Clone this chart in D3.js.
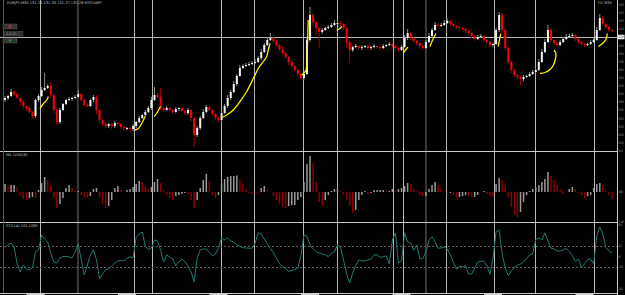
<!DOCTYPE html>
<html lang="en">
<head>
<meta charset="UTF-8" />
<title>EURJPY,M30</title>
<script src="https://d3js.org/d3.v7.min.js"></script>
<style>
  body { margin: 0; background: #000; }
  svg { display: block; }
  text { font-family: "DejaVu Sans", sans-serif; }
</style>
</head>
<body>
<svg width="625" height="295"></svg>
<script>
// ---- data ----
const firstOpen = 130.0;
const closes = [
  130.04,130.08,130.16,130.12,130.04,129.96,129.88,129.84,129.76,129.68,
  130.00,130.08,130.20,130.24,130.28,130.10,129.80,129.56,129.80,129.92,
  130.00,130.02,130.04,130.06,130.12,130.00,129.90,129.88,130.00,130.06,
  129.80,129.60,129.52,129.48,129.52,129.48,129.54,129.52,129.46,129.44,
  129.44,129.42,129.48,129.56,129.64,129.70,129.76,129.84,130.00,130.10,
  130.06,129.84,129.80,129.84,129.80,129.76,129.82,129.84,129.78,129.74,
  129.80,129.64,129.30,129.44,129.64,129.76,129.86,129.80,129.72,129.64,
  129.60,129.74,129.88,130.04,130.16,130.32,130.48,130.64,130.68,130.70,
  130.72,130.74,130.76,130.84,130.96,131.10,131.20,131.24,131.18,131.10,
  131.02,130.94,130.86,130.76,130.68,130.60,130.52,130.44,130.52,131.20,
  131.70,131.56,131.44,131.36,131.40,131.44,131.46,131.50,131.54,131.54,
  131.52,131.44,131.16,131.00,131.06,131.08,131.04,131.06,131.08,131.04,
  131.06,131.08,131.06,131.04,131.08,131.10,131.12,131.08,131.04,131.00,
  131.06,131.24,131.34,131.24,131.18,131.14,131.08,131.04,131.16,131.28,
  131.40,131.50,131.48,131.50,131.54,131.58,131.52,131.48,131.46,131.44,
  131.42,131.38,131.34,131.28,131.22,131.26,131.28,131.20,131.16,131.10,
  131.12,131.40,131.70,131.40,131.04,130.76,130.60,130.50,130.46,130.42,
  130.46,130.48,130.52,130.56,130.60,130.76,130.96,131.16,131.40,131.20,
  131.14,131.10,131.16,131.22,131.26,131.28,131.30,131.22,131.16,131.12,
  131.10,131.12,131.16,131.20,131.40,131.64,131.52,131.46,131.40,131.38
];
const wickUp = [
  .04,.02,.06,.04,.02,.02,.04,.02,.04,.02, .02,.04,.06,.30,.04,.08,.04,.02,.04,.02,
  .02,.04,.02,.04,.08,.02,.02,.04,.02,.04, .04,.02,.02,.04,.02,.02,.04,.02,.02,.02,
  .02,.02,.04,.02,.04,.02,.04,.04,.06,.16, .04,.18,.02,.04,.02,.02,.04,.02,.02,.02,
  .04,.02,.02,.04,.04,.06,.04,.02,.02,.02, .02,.04,.04,.06,.04,.06,.04,.06,.04,.04,
  .04,.04,.06,.04,.06,.04,.06,.10,.02,.02, .02,.04,.02,.02,.04,.02,.02,.02,.04,.06,
  .16,.04,.02,.02,.04,.02,.04,.04,.06,.04, .04,.02,.02,.04,.02,.04,.02,.04,.02,.04,
  .02,.04,.02,.02,.04,.02,.04,.02,.02,.02, .04,.06,.08,.02,.02,.02,.02,.04,.04,.06,
  .04,.06,.04,.04,.06,.04,.02,.02,.02,.02, .02,.02,.02,.02,.02,.04,.04,.02,.02,.02,
  .02,.04,.06,.04,.02,.02,.02,.02,.02,.02, .04,.02,.04,.04,.04,.06,.06,.06,.10,.04,
  .02,.02,.04,.04,.06,.04,.04,.02,.02,.02, .02,.02,.04,.06,.06,.08,.04,.02,.02,.02
];
const wickDn = [
  .04,.04,.02,.04,.04,.06,.04,.06,.04,.06, .04,.04,.02,.02,.02,.06,.06,.06,.04,.02,
  .02,.02,.04,.02,.02,.04,.04,.02,.02,.04, .08,.06,.04,.04,.04,.06,.04,.04,.04,.06,
  .04,.06,.04,.04,.02,.02,.04,.02,.04,.02, .02,.04,.04,.02,.04,.04,.02,.04,.02,.04,
  .04,.06,.24,.04,.04,.02,.02,.02,.04,.04, .04,.04,.02,.04,.04,.02,.04,.02,.02,.02,
  .02,.02,.02,.02,.04,.02,.02,.02,.04,.04, .04,.04,.04,.06,.04,.04,.06,.04,.04,.02,
  .04,.08,.14,.32,.04,.02,.02,.02,.02,.02, .04,.04,.12,.26,.04,.02,.04,.04,.02,.04,
  .04,.02,.04,.04,.02,.02,.02,.04,.04,.04, .02,.02,.04,.04,.04,.04,.06,.04,.02,.02,
  .02,.02,.02,.02,.02,.02,.04,.04,.04,.04, .02,.04,.04,.04,.04,.02,.02,.04,.04,.04,
  .04,.02,.04,.06,.06,.04,.06,.04,.04,.12, .04,.02,.02,.02,.02,.02,.02,.02,.02,.04,
  .04,.04,.02,.02,.02,.02,.02,.04,.04,.04, .04,.02,.02,.02,.02,.02,.04,.04,.04,.02
];
const histValues = [
  .08,.06,.07,.07,.05,-.04,-.07,-.08,-.06,-.05, -.06,.02,.09,.15,.12,.07,-.06,-.16,-.12,-.06,
  .04,.07,.04,.01,.01,-.03,-.05,-.06,-.04,.03, .04,-.06,-.12,-.16,-.14,-.08,.04,.06,.02,0,
  .02,.03,.05,.08,.11,.10,.06,.03,.05,.10, .13,.09,.02,-.03,-.06,-.08,-.04,-.03,-.02,-.01,
  -.02,-.08,-.16,-.08,.04,.12,.18,.11,-.03,-.06, -.03,.09,.13,.15,.16,.16,.165,.13,.08,.03,
  -.01,-.02,0,-.01,.04,.06,.02,0,-.04,-.08, -.12,-.15,-.16,-.14,-.13,-.13,-.08,-.05,.10,.28,
  .36,.29,.10,-.10,-.14,-.08,-.03,.01,.03,.03, .01,-.03,-.08,-.14,-.21,-.18,-.08,-.03,.01,-.02,
  -.01,.02,.02,.02,.02,.01,.01,.03,.02,.03, .04,.06,.09,.08,.03,.01,-.03,-.04,-.04,.03,
  .07,.10,.07,.03,.01,-.01,-.01,-.03,-.06,-.05, -.04,-.03,-.04,-.05,-.05,-.03,0,.01,-.02,-.04,
  -.05,.08,.14,.12,.06,-.05,-.15,-.22,-.25,-.20, -.10,-.03,.01,.03,.05,.07,.10,.13,.20,.16,
  .12,.07,.03,-.02,0,.03,.05,.03,-.01,-.03, -.06,-.04,-.03,.04,.08,.09,.07,.01,-.03,-.07
];
const cciValues = [
  88,109,128,91,-68,-143,-78,-115,-124,-106, 44,63,203,165,137,35,-50,-59,-12,0,
  2,-3,-12,44,119,-31,-171,-78,16,63, -31,-208,-162,-124,-110,-87,-59,-40,-36,-40,
  -15,0,-12,180,212,231,100,63,81,156, 147,63,-50,16,-3,-22,-87,-50,-22,-47,
  -87,-143,-237,-12,63,72,72,39,7,25, 81,175,156,175,147,137,109,95,84,81,
  79,79,125,222,212,165,119,77,35,-12, -68,-92,-110,-138,-129,-120,-110,7,203,189,
  109,72,44,35,25,16,0,32,44,109, 91,-31,-162,-246,-152,-82,-31,-40,-40,-31,
  -22,16,16,-7,0,7,-68,156,222,-59, -40,222,137,128,58,109,-22,-17,44,156,
  187,140,79,81,91,72,16,-50,-120,-87, -96,-82,-162,-162,-106,-47,-45,-40,-87,-166,
  -12,231,250,25,-106,-176,-134,-101,-78,-68, -50,-17,16,25,161,175,156,222,147,79,
  72,53,53,63,77,49,11,-45,-22,-101, -68,-26,-22,-68,194,278,208,86,53,35
];
// yellow indicator segments: [candle index, price]
const yellowSegments = [
  [[11.5,129.83],[12.6,129.93],[13.7,130.00],[14.2,130.07]],
  [[42.6,129.40],[43.7,129.43],[44.8,129.53],[45.9,129.67]],
  [[48.9,129.67],[49.7,129.73],[50.6,129.83],[51.0,129.87]],
  [[71.05,129.65],[72.7,129.70],[74.85,129.80],[77.05,129.97],[79.25,130.17],[81.4,130.43],
   [83.05,130.63],[84.7,130.77],[85.8,130.87],[86.3,131.00],[86.9,131.13]],
  [[97.3,130.50],[98.7,130.60],[99.1,131.00],[99.4,131.60]],
  [[108.75,131.40],[109.6,131.42],[110.4,131.47]],
  [[130.5,130.94],[131.3,131.00],[132.1,131.06]],
  [[139.3,131.07],[140.2,131.20],[141.3,131.33]],
  [[161.7,131.07],[162.1,131.20],[162.5,131.33]],
  [[175.4,130.53],[177.05,130.55],[178.7,130.61],[179.8,130.70],[180.4,130.81],[180.6,130.93],[180.0,131.00]],
  [[194.5,131.07],[195.9,131.13],[197.0,131.21],[197.5,131.33]]
];
const lightMarks = [11.5, 42.3, 48.2, 70.7, 81.6, 97.6, 108.75, 127.1, 130.4, 144.5, 160.4, 173.9, 193.2];
const darkMarks = [23.9, 138.0];
const lastPrice = 131.26;
const priceTicks = [131.900,131.738,131.576,131.414,131.252,131.090,130.928,130.766,130.604,
  130.442,130.280,130.118,129.956,129.794,129.632,129.470,129.308,129.146];
const histTicks = [0.41, 0, -0.30];
const cciTicks = [300, 100, 0, -100, -300];
const cciLevels = [100, -100];
const timeLabels = [[10, "11 Mar 2021"], [40, "11 Mar 16:00"], [70, "12 Mar 00:00"], [100, "12 Mar 08:00"],
  [130, "12 Mar 16:00"], [160, "15 Mar 00:00"], [190, "15 Mar 08:00"]];

// ---- layout ----
const svg = d3.select("svg");
const W = 625, axisX = 617;
const x = d3.scaleLinear().domain([0, closes.length - 1]).range([5, 612]);
const yP = d3.scaleLinear().domain([132.0, 128.98]).range([0, 151]);
const yH = d3.scaleLinear().domain([0.41, -0.30]).range([151, 222]);
const yC = d3.scaleLinear().domain([324, -349]).range([222, 294]);

svg.append("rect").attr("width", W).attr("height", 295).attr("fill", "#000");

// vertical object lines across all panels
svg.append("g").selectAll("line").data(lightMarks).join("line")
  .attr("x1", d => Math.round(x(d)) + 0.5).attr("x2", d => Math.round(x(d)) + 0.5)
  .attr("y1", 0).attr("y2", 293).attr("stroke", "#b4b4b4").attr("stroke-width", 1);
svg.append("g").selectAll("line").data(darkMarks).join("line")
  .attr("x1", d => x(d)).attr("x2", d => x(d))
  .attr("y1", 0).attr("y2", 293).attr("stroke", "#3a3a3a").attr("stroke-width", 2);

// panel separators and axes
[151.5, 222.5, 293.5].forEach(yy => {
  svg.append("line").attr("x1", 0).attr("x2", axisX).attr("y1", yy).attr("y2", yy)
    .attr("stroke", "#c8c8c8");
});
svg.append("line").attr("x1", axisX + 0.5).attr("x2", axisX + 0.5).attr("y1", 0).attr("y2", 295)
  .attr("stroke", "#c8c8c8");
svg.append("line").attr("x1", 3.5).attr("x2", 3.5).attr("y1", 0).attr("y2", 293)
  .attr("stroke", "#555");

// last price line
svg.append("line").attr("x1", 0).attr("x2", axisX).attr("y1", Math.round(yP(lastPrice)) + 0.5)
  .attr("y2", Math.round(yP(lastPrice)) + 0.5).attr("stroke", "#b4b4b4");

// ---- candles ----
const candles = closes.map((c, i) => {
  const o = i === 0 ? firstOpen : closes[i - 1];
  return { i, o, c, h: Math.max(o, c) + wickUp[i], l: Math.min(o, c) - wickDn[i] };
});
const main = svg.append("g");
main.selectAll("line.wick").data(candles).join("line").attr("class", "wick")
  .attr("x1", d => x(d.i)).attr("x2", d => x(d.i))
  .attr("y1", d => yP(d.h)).attr("y2", d => yP(d.l))
  .attr("stroke", d => d.c >= d.o ? "#8a948a" : "#a00000").attr("stroke-width", 1);
main.selectAll("rect").data(candles).join("rect")
  .attr("x", d => x(d.i) - 1)
  .attr("width", 2)
  .attr("y", d => yP(Math.max(d.o, d.c)))
  .attr("height", d => Math.max(1, Math.abs(yP(d.o) - yP(d.c))))
  .attr("fill", d => d.c >= d.o ? "#f2f2f2" : "#ff0000");

main.selectAll("path.yel").data(yellowSegments).join("path").attr("class", "yel")
  .attr("d", d3.line().x(d => x(d[0])).y(d => yP(d[1])).curve(d3.curveCatmullRom))
  .attr("fill", "none").attr("stroke", "#ffee00").attr("stroke-width", 1.3);

// ---- histogram ----
svg.append("g").selectAll("rect").data(histValues).join("rect")
  .attr("x", (d, i) => x(i) - 0.75).attr("width", 1.5)
  .attr("y", d => Math.min(yH(d), yH(0)))
  .attr("height", d => Math.abs(yH(d) - yH(0)))
  .attr("fill", (d, i) => i > 0 && d < histValues[i - 1] ? "#8b0000" : "#9a9a9a");

// ---- CCI ----
svg.append("g").selectAll("line").data(cciLevels).join("line")
  .attr("x1", 0).attr("x2", axisX)
  .attr("y1", d => Math.round(yC(d)) + 0.5).attr("y2", d => Math.round(yC(d)) + 0.5)
  .attr("stroke", "#5a5a5a").attr("stroke-dasharray", "2,2");
svg.append("path").datum(cciValues)
  .attr("d", d3.line().x((d, i) => x(i)).y(d => yC(d)))
  .attr("fill", "none").attr("stroke", "#237a6f").attr("stroke-width", 1);

// ---- right axis labels (squeezed horizontally into the narrow strip) ----
const axisG = svg.append("g").attr("font-size", 3.4).attr("fill", "#b8b8b8");
function ticks(scale, vals, fmt) {
  vals.forEach(v => {
    const yy = scale(v);
    axisG.append("line").attr("x1", axisX).attr("x2", axisX + 1.2).attr("y1", yy).attr("y2", yy)
      .attr("stroke", "#b8b8b8").attr("stroke-width", 0.6);
    axisG.append("text")
      .attr("transform", `translate(${axisX + 1.5},${yy + 1.1}) scale(0.36,1)`)
      .text(fmt(v));
  });
}
ticks(yP, priceTicks, d3.format(".3f"));
ticks(yH, histTicks, d3.format(".4f"));
ticks(yC, cciTicks, d3.format(".1f"));
const ly = yP(lastPrice);
svg.append("rect").attr("x", axisX + 1).attr("y", ly - 2.3).attr("width", 6.5).attr("height", 4.6).attr("fill", "#f0f0f0");
svg.append("text").attr("transform", `translate(${axisX + 1.5},${ly + 1.1}) scale(0.36,1)`)
  .attr("font-size", 3.4).attr("fill", "#000")
  .text(d3.format(".3f")(lastPrice));

// ---- titles and buttons ----
const t = svg.append("g").attr("font-size", 3.6).attr("fill", "#c0c0c0");
t.append("text").attr("x", 7).attr("y", 4).text("EURJPY,M30  131.26 131.30 131.22 131.26  MYCHART");
t.append("text").attr("x", 598).attr("y", 4).text("H1 M30");
t.append("text").attr("x", 6).attr("y", 156).text("MA 1(00)(8)");
t.append("text").attr("x", 6).attr("y", 227).text("CCI(14) 101.1085");

svg.append("rect").attr("x", 3).attr("y", 24).attr("width", 14).attr("height", 5)
  .attr("fill", "#333").attr("stroke", "#555").attr("stroke-width", 0.5);
svg.append("circle").attr("cx", 10).attr("cy", 26.5).attr("r", 1.3).attr("fill", "none").attr("stroke", "#c33");
svg.append("rect").attr("x", 4).attr("y", 31.5).attr("width", 15).attr("height", 4.5)
  .attr("fill", "#2a2a2a").attr("stroke", "#555").attr("stroke-width", 0.5);
svg.append("rect").attr("x", 19).attr("y", 31.5).attr("width", 4).attr("height", 4.5)
  .attr("fill", "#2a2a2a").attr("stroke", "#555").attr("stroke-width", 0.5);
svg.append("text").attr("x", 6).attr("y", 35).attr("font-size", 3.4).attr("fill", "#aaa").text("0.0.01");
svg.append("rect").attr("x", 3).attr("y", 38).attr("width", 14).attr("height", 5)
  .attr("fill", "#333").attr("stroke", "#555").attr("stroke-width", 0.5);
svg.append("circle").attr("cx", 10).attr("cy", 40.5).attr("r", 1.3).attr("fill", "#1a9a1a");

// ---- time axis (mostly cropped) ----
const tg = svg.append("g");
tg.selectAll("rect").data(timeLabels).join("rect")
  .attr("x", d => x(d[0]) - 9).attr("y", 293.5).attr("width", 18).attr("height", 2).attr("fill", "#cfcfcf");
</script>
</body>
</html>
